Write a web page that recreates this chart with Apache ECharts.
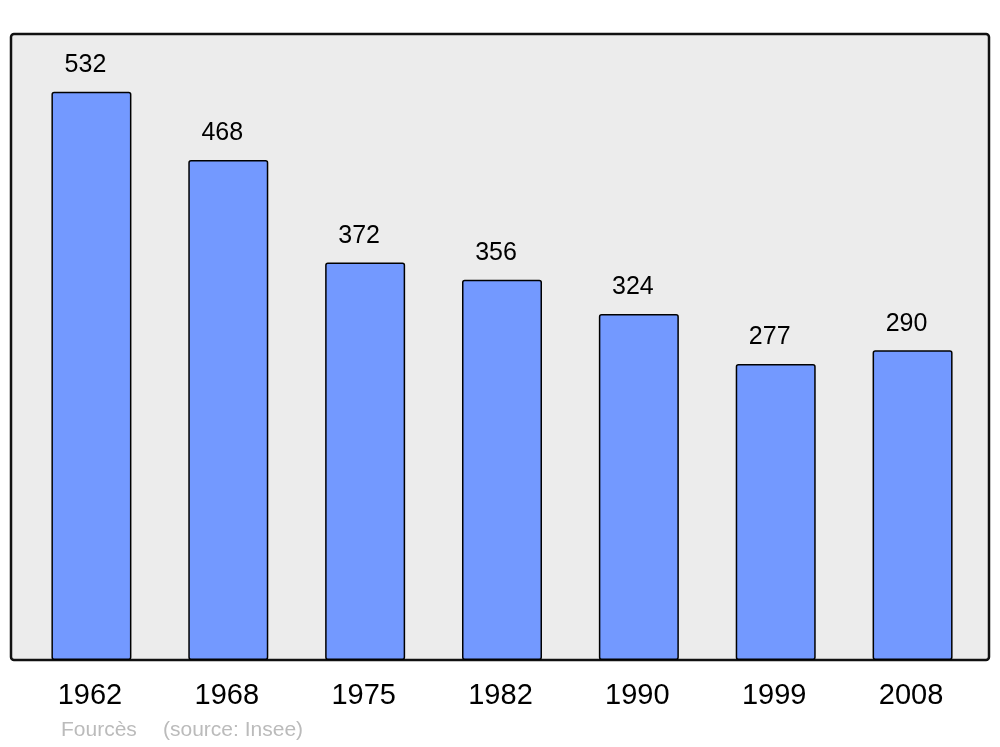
<!DOCTYPE html>
<html>
<head>
<meta charset="utf-8">
<script src="https://cdn.jsdelivr.net/npm/echarts@6/dist/echarts.min.js"></script>
<style>html,body{margin:0;padding:0;background:#fff;}#c{width:1000px;height:747px;}</style>
</head>
<body>
<div id="c"></div>
<script>
const years = ['1962', '1968', '1975', '1982', '1990', '1999', '2008'];
const population = [532, 468, 372, 356, 324, 277, 290];
const footerPlace = 'Fourcès';
const footerSource = '(source: Insee)';

const chart = echarts.init(document.getElementById('c'), null, {renderer: 'canvas'});
chart.setOption({
  animation: false,
  backgroundColor: '#ffffff',
  grid: {left: 23, right: 19, top: 34, bottom: 87},
  graphic: [
    {type: 'rect', z: -10, shape: {x: 11, y: 34, width: 978, height: 626, r: 3},
     style: {fill: '#ececec', stroke: '#111', lineWidth: 2.5}},
    {type: 'text', left: 61, top: 720, style: {text: footerPlace, fill: '#bbbbbb', font: '21px "Liberation Sans", Arial, sans-serif'}},
    {type: 'text', left: 163, top: 720, style: {text: footerSource, fill: '#bbbbbb', font: '21px "Liberation Sans", Arial, sans-serif'}}
  ],
  xAxis: {
    type: 'category', data: years,
    axisLine: {show: false}, axisTick: {show: false},
    axisLabel: {color: '#000', fontSize: 29, fontFamily: 'Liberation Sans, Arial, sans-serif', margin: 21, padding: [0, 3, 0, 0]}
  },
  yAxis: {type: 'value', min: 0, max: 586, show: false, splitLine: {show: false}},
  series: [{
    type: 'bar', data: population, barWidth: 80,
    itemStyle: {color: '#7399ff', borderColor: '#000', borderWidth: 1.5, borderRadius: 2},
    label: {show: true, position: 'top', distance: 14, offset: [-6, 0], color: '#000', fontSize: 25,
            fontFamily: 'Liberation Sans, Arial, sans-serif'}
  }]
});
</script>
</body>
</html>
